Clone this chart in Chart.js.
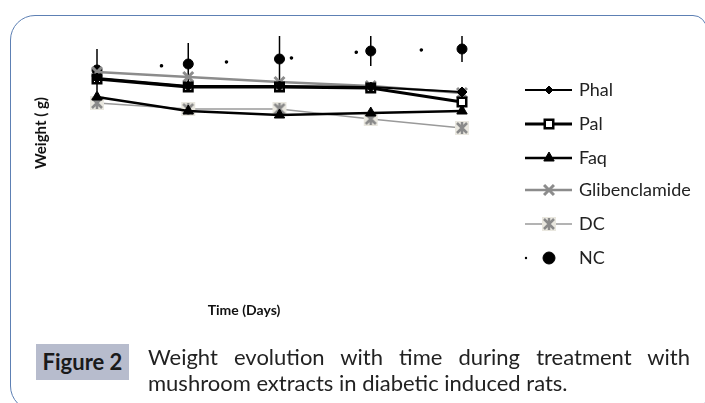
<!DOCTYPE html>
<html>
<head>
<meta charset="utf-8">
<script src="https://cdn.jsdelivr.net/npm/chart.js@4/dist/chart.umd.min.js"></script>
<style>
  html, body { margin: 0; padding: 0; background: #fff; }
  #page { position: relative; width: 705px; height: 403px; overflow: hidden; font-family: Lato, sans-serif; }
  #frame { position: absolute; left: 10px; top: 15px; width: 697px; height: 396px; box-sizing: border-box;
           border: 1.5px solid #5d80b4; border-radius: 25px 14px 14px 25px; }
  #chartBox { position: absolute; left: 0; top: 0; width: 705px; height: 403px; }
  .axisTitle { position: absolute; font-weight: bold; color: #111; white-space: nowrap; }
  #yTitle { left: 40px; top: 133px; font-size: 15px; transform: translate(-50%, -50%) rotate(-90deg); }
  #xTitle { left: 244px; top: 309px; font-size: 14px; transform: translate(-50%, -50%); }
  #figLabel { position: absolute; left: 36px; top: 344px; width: 93px; height: 36px; background: #b7bccd;
              font-weight: bold; font-size: 22px; line-height: 36px; text-align: center; color: #1a1a1a; }
  .capLine { position: absolute; left: 148px; width: 542px; font-size: 22px; line-height: 26px; color: #222; white-space: nowrap; }
  #cap1 { top: 344px; text-align: justify; text-align-last: justify; white-space: normal; }
  #cap2 { top: 370px; }
</style>
</head>
<body>
<div id="page">
  <div id="frame"></div>
  <div id="chartBox"><canvas id="weightChart" width="705" height="403"></canvas></div>
  <div class="axisTitle" id="yTitle">Weight ( g)</div>
  <div class="axisTitle" id="xTitle">Time (Days)</div>
  <div id="figLabel">Figure 2</div>
  <div class="capLine" id="cap1">Weight evolution with time during treatment with</div>
  <div class="capLine" id="cap2">mushroom extracts in diabetic induced rats.</div>
</div>
<script>
// time points (no tick labels printed on the figure)
var days = ['0', '7', '14', '21', '28'];
var seriesNames = ['Phal', 'Pal', 'Faq', 'Glibenclamide', 'DC', 'NC'];

// weights (g)
var phal = [212, 204, 204, 203, 198];
var pal = [211, 203, 203, 202, 188];
var faq = [193, 179, 175, 177, 179];
var gliben = [218, 213, 208, 204, 197];
var dc = [187, 181, 181, 171, 162];
var nc = [220, 226, 231, 239, 241];
var ncErr = [21, 21, 23, 15, 13];

var yMin = 0;
var yMax = 260;

// DC marker: light square with a grey asterisk
function makeDcMarker() {
    var c = document.createElement('canvas');
    c.width = 16; c.height = 16;
    var g = c.getContext('2d');
    g.fillStyle = '#e9e7df';
    g.fillRect(1, 1, 14, 14);
    g.strokeStyle = '#8a8a8a';
    g.lineWidth = 2.5;
    g.beginPath();
    g.moveTo(3, 3); g.lineTo(13, 13);
    g.moveTo(13, 3); g.lineTo(3, 13);
    g.moveTo(8, 2); g.lineTo(8, 14);
    g.stroke();
    return c;
}
var dcMarker = makeDcMarker();

var datasets = [
    { label: 'Phal', data: phal, borderColor: '#000', backgroundColor: '#000', borderWidth: 2,
      pointStyle: 'rectRot', pointRadius: 5, pointBorderWidth: 1 },
    { label: 'Pal', data: pal, borderColor: '#000', backgroundColor: '#fff', borderWidth: 3,
      pointStyle: 'rect', pointRadius: 6, pointBorderWidth: 2.5 },
    { label: 'Faq', data: faq, borderColor: '#000', backgroundColor: '#000', borderWidth: 2.5,
      pointStyle: 'triangle', pointRadius: 6, pointBorderWidth: 1 },
    { label: 'Glibenclamide', data: gliben, borderColor: '#8c8c8c', backgroundColor: '#8c8c8c', borderWidth: 2.5,
      pointStyle: 'crossRot', pointRadius: 7, pointBorderWidth: 3 },
    { label: 'DC', data: dc, borderColor: '#9a9a9a', backgroundColor: '#9a9a9a', borderWidth: 1.5,
      pointStyle: dcMarker, pointRadius: 8 },
    { label: 'NC', data: nc, borderColor: '#000', backgroundColor: '#000', borderWidth: 3.5,
      borderDash: [0.1, 65], borderDashOffset: 0.5, borderCapStyle: 'round',
      pointStyle: 'circle', pointRadius: 5, pointBorderWidth: 1 }
];
datasets.forEach(function (ds) { ds.tension = 0; ds.clip = false; ds.fill = false; });

// vertical error bars for NC
var errorBars = {
    id: 'errorBars',
    beforeDatasetsDraw: function (chart) {
        var ctx = chart.ctx;
        var xs = chart.scales.x, ys = chart.scales.y;
        ctx.save();
        ctx.strokeStyle = '#000';
        ctx.lineWidth = 1.5;
        nc.forEach(function (v, i) {
            var x = xs.getPixelForValue(i);
            ctx.beginPath();
            ctx.moveTo(x, ys.getPixelForValue(v + ncErr[i]));
            ctx.lineTo(x, ys.getPixelForValue(v - ncErr[i]));
            ctx.stroke();
        });
        ctx.restore();
    }
};

// legend on the right: line + marker + name
var sideLegend = {
    id: 'sideLegend',
    afterDraw: function (chart) {
        var ctx = chart.ctx;
        var rows = [90, 124, 158, 190, 224, 258];
        ctx.save();
        chart.data.datasets.forEach(function (ds, i) {
            var y = rows[i];
            ctx.setLineDash([]);
            if (ds.label === 'NC') {
                ctx.fillStyle = '#000';
                ctx.beginPath(); ctx.arc(526, y, 1.2, 0, Math.PI * 2); ctx.fill();
            } else {
                ctx.strokeStyle = ds.borderColor;
                ctx.lineWidth = ds.borderWidth;
                ctx.beginPath(); ctx.moveTo(525, y); ctx.lineTo(572, y); ctx.stroke();
            }
            ctx.fillStyle = ds.backgroundColor;
            ctx.strokeStyle = ds.borderColor;
            ctx.lineWidth = ds.pointBorderWidth || 1;
            Chart.helpers.drawPoint(ctx, {
                pointStyle: ds.pointStyle,
                radius: ds.label === 'Phal' ? 4 : (ds.label === 'NC' ? 6 : ds.pointRadius),
                borderWidth: ds.pointBorderWidth || 1,
                rotation: 0
            }, 549, y);
            ctx.fillStyle = '#222';
            ctx.font = '18px Lato, sans-serif';
            ctx.textBaseline = 'middle';
            ctx.fillText(ds.label, 579, y);
        });
        ctx.restore();
    }
};

var ctx = document.getElementById('weightChart').getContext('2d');
var weightChart = new Chart(ctx, {
    type: 'line',
    data: { labels: days, datasets: datasets },
    options: {
        responsive: false,
        animation: false,
        layout: { padding: { left: 97, right: 243, top: 30, bottom: 113 } },
        plugins: { legend: { display: false }, tooltip: { enabled: false } },
        scales: {
            x: { display: false, offset: false },
            y: { display: false, min: yMin, max: yMax }
        }
    },
    plugins: [errorBars, sideLegend]
});
</script>
</body>
</html>
